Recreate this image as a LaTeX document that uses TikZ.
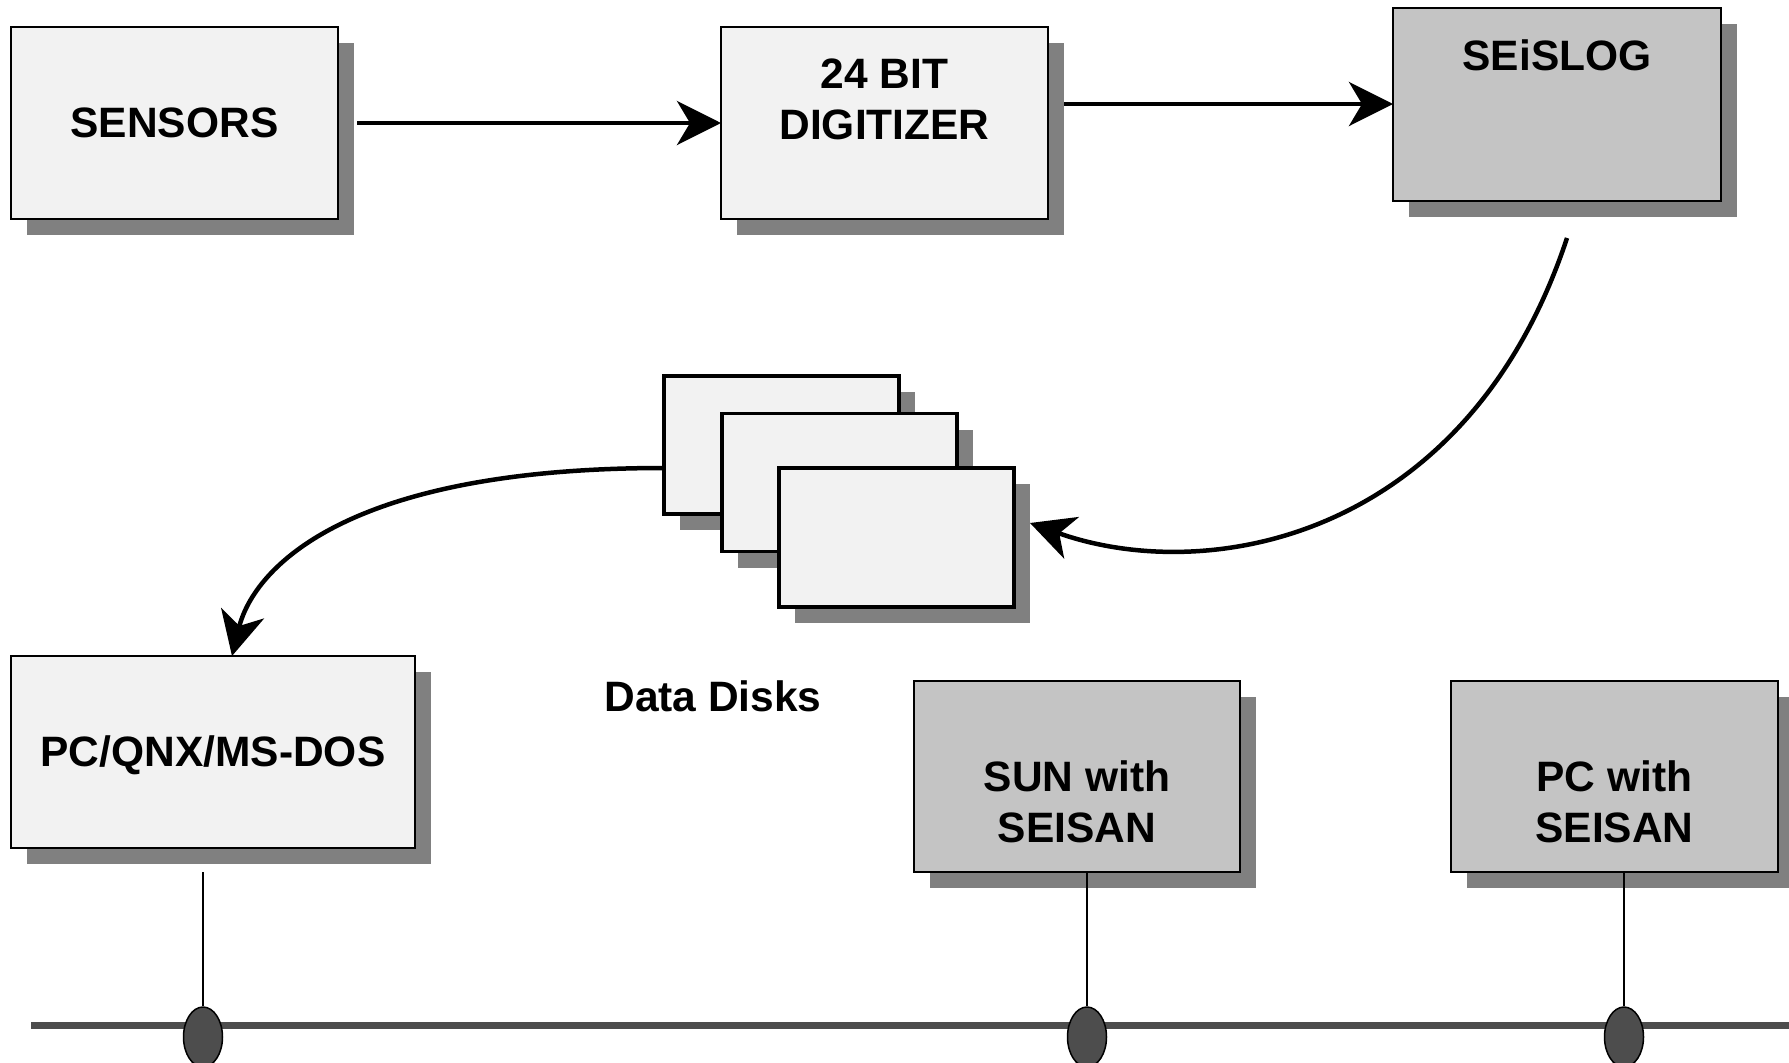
\documentclass[tikz,border=0pt]{standalone}
\usepackage{fontspec}
\setmainfont{Liberation Sans}
\usetikzlibrary{arrows.meta,shadows,shapes.geometric}
\definecolor{lightfill}{HTML}{F2F2F2}
\definecolor{darkfill}{HTML}{C4C4C4}
\definecolor{shadowgray}{HTML}{808080}
\definecolor{busgray}{HTML}{4D4D4D}
\tikzset{
  boxbase/.style={draw=black, line width=2pt, inner sep=0pt, outer sep=0pt,
    drop shadow={shadow xshift=16pt, shadow yshift=-16pt, fill=shadowgray, opacity=1}},
  lightbox/.style={boxbase, fill=lightfill},
  darkbox/.style={boxbase, fill=darkfill},
  diskbox/.style={draw=black, line width=3.5pt, fill=lightfill, inner sep=0pt, outer sep=0pt,
    minimum width=235pt, minimum height=138pt,
    drop shadow={shadow xshift=16pt, shadow yshift=-16pt, fill=shadowgray, opacity=1}},
  lbl/.style={font=\fontsize{42.5}{51}\selectfont\bfseries, align=center, inner sep=0pt, text=black},
  conn/.style={line width=4.5pt, -{Stealth[length=44pt,width=44pt,inset=13pt]}},
  tapline/.style={line width=1.5pt, black},
  tap/.style={ellipse, draw=black, line width=1.5pt, fill=busgray, minimum width=39pt, minimum height=60pt, inner sep=0pt},
}
\begin{document}
\begin{tikzpicture}[x=1pt,y=-1pt]
\useasboundingbox[fill=white] (0,0) rectangle (1789,1063);

% top row
\node[lightbox, minimum width=327pt, minimum height=192pt] (sensors) at (174.5,123) {};
\node[lbl] (sensorsL) at (sensors.center) {SENSORS};

\node[lightbox, minimum width=327pt, minimum height=192pt] (digitizer) at (884.5,123) {};
\node[lbl] (digitizerL) at (884.5,99.5) {24 BIT\\DIGITIZER};

\node[darkbox, minimum width=328pt, minimum height=193pt] (seislog) at (1557,104) {};
\node[lbl] (seislogL) at (1557,55.5) {SEiSLOG};

% data disks
\node[diskbox] (disk1) at (781.5,445) {};
\node[diskbox] (disk2) at (839.5,482.5) {};
\node[diskbox, minimum height=139pt] (disk3) at (896.5,537.5) {};
\node[lbl] (disksL) at (713,696) {Data Disks};

% bottom row
\node[lightbox, minimum width=404pt, minimum height=192pt] (pcqnx) at (213,752) {};
\node[lbl] (pcqnxL) at (213,755) {PC/QNX/MS-DOS};

\node[darkbox, minimum width=326pt, minimum height=191pt] (sun) at (1077,776.5) {};
\node[lbl] (sunL) at (1077,802) {SUN with\\SEISAN};

\node[darkbox, minimum width=327pt, minimum height=191pt] (pcseisan) at (1614.5,776.5) {};
\node[lbl] (pcseisanL) at (1614.5,802) {PC with\\SEISAN};

% arrows
\draw[conn] ([xshift=19pt]sensors.east) -- (digitizer.west);
\draw[conn] ([xshift=16pt]digitizer.east |- seislog.west) -- (seislog.west);
\draw[conn] ([xshift=10pt,yshift=-37.5pt]seislog.south) .. controls (1467,540) and (1207,586) .. ([xshift=16pt,yshift=14.5pt]disk3.east);
\draw[conn] ([yshift=-23pt]disk1.west) .. controls (334,468) and (252,575) .. ([xshift=19pt]pcqnx.north);

% network bus
\coordinate (busL) at (31,1025.5);
\coordinate (busR) at (1795,1025.5);
\draw[busgray, line width=7pt] (busL) -- (busR);

\node[tap] (tap1) at (203,1037) {};
\node[tap] (tap2) at (1087,1037) {};
\node[tap] (tap3) at (1624,1037) {};

\coordinate (tap1top) at (203,872);
\draw[tapline] (tap1top) -- (tap1.north);
\draw[tapline] (tap2.north |- sun.south) -- (tap2.north);
\draw[tapline] (tap3.north |- pcseisan.south) -- (tap3.north);
\end{tikzpicture}
\end{document}
